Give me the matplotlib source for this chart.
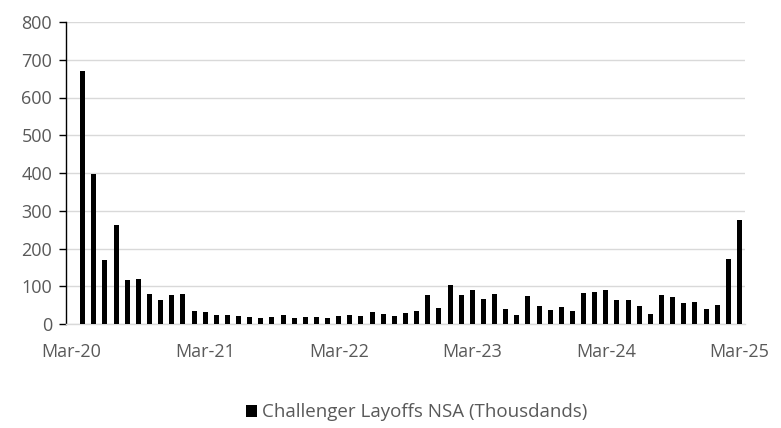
import matplotlib.pyplot as plt
import numpy as np

plt.rcParams['font.family'] = ['Open Sans', 'DejaVu Sans']

# monthly job cuts announced, thousands, Apr-20 .. Mar-25
months = ['Mar-20', 'Mar-21', 'Mar-22', 'Mar-23', 'Mar-24', 'Mar-25']
layoffs = [671.1, 397.0, 170.2, 262.6, 115.8, 118.8, 80.7, 64.8, 77.0, 79.6,
           34.5, 30.6, 22.9, 24.6, 20.5, 18.9, 15.7, 17.9, 22.8, 14.9,
           19.1, 19.1, 15.2, 21.4, 24.3, 20.7, 32.5, 25.8, 20.5, 30.0,
           33.8, 76.8, 43.7, 102.9, 77.8, 89.7, 67.0, 80.1, 40.7, 23.7,
           75.2, 47.5, 36.8, 45.5, 34.8, 82.3, 84.6, 90.3, 64.8, 63.8,
           48.8, 25.9, 75.9, 72.8, 55.6, 57.7, 38.8, 49.8, 172.0, 275.2]

grey = '#595959'
x = np.arange(1, len(layoffs) + 1)

fig = plt.figure(figsize=(7.81, 4.28), dpi=100)
ax = fig.add_axes([66 / 781, 1 - 324 / 428, 679 / 781, 302 / 428])

ax.bar(x, layoffs, width=0.45, color='black', zorder=3,
       label='Challenger Layoffs NSA (Thousdands)')

ax.set_xlim(-0.5, 60.5)
ax.set_ylim(0, 800)
ax.set_yticks(range(0, 801, 100))
ax.set_xticks(range(0, 61, 12))
ax.set_xticklabels(months)

ax.grid(axis='y', color='#d9d9d9', linewidth=1, zorder=0)
ax.set_axisbelow(True)
for s in ['top', 'right']:
    ax.spines[s].set_visible(False)
ax.spines['bottom'].set_color('#d9d9d9')
ax.spines['bottom'].set_linewidth(1)
ax.spines['left'].set_color('black')
ax.spines['left'].set_linewidth(1)

ax.tick_params(axis='y', length=5, width=1, color='black', labelcolor=grey,
               labelsize=13, pad=5)
ax.tick_params(axis='x', length=0, labelcolor=grey, labelsize=13, pad=14)

fig.legend(loc='center', bbox_to_anchor=(0.533, 0.037), frameon=False,
           fontsize=13.5, labelcolor=grey, handlelength=0.6, handleheight=0.6,
           handletextpad=0.25)

fig.savefig('out.png', dpi=100)
